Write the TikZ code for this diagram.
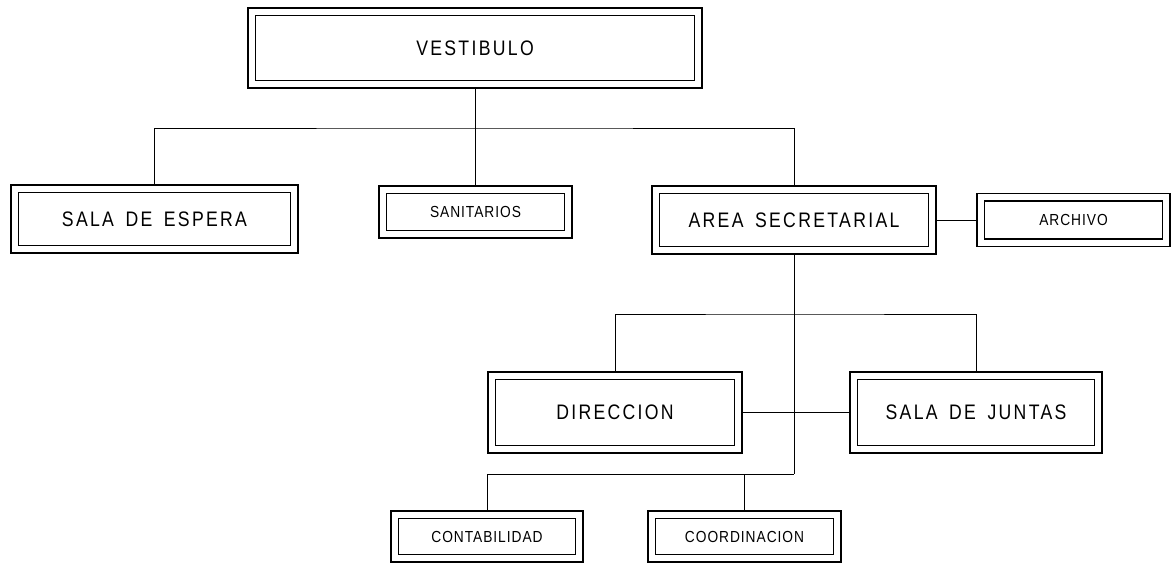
\documentclass[tikz,border=0pt]{standalone}
\usepackage{fontspec}
% narrow, tracked lettering in the style of drafting text
\setmainfont{Liberation Sans}[FakeStretch=0.84, LetterSpace=11, WordSpace=1.6]
\newfontfamily\smallcad{Liberation Sans}[FakeStretch=0.86, LetterSpace=6, WordSpace=1.4]
\begin{document}
\begin{tikzpicture}[x=1pt,y=-1pt,
  roombox/.style={draw, line width=1.1pt, double=white, double distance=6.4pt,
    outer sep=4.3pt, inner sep=0pt, align=center},
  bigroom/.style={roombox, font=\fontsize{21}{24}\selectfont},
  smallroom/.style={roombox, font=\smallcad\fontsize{16}{18}\selectfont},
  link/.style={draw, line width=1pt}]
\useasboundingbox (0,0) rectangle (1171,566);

% rooms
\node[bigroom, minimum width=446.5pt, minimum height=72.5pt] (vest) at (475,48) {VESTIBULO};
\node[bigroom, minimum width=279.5pt, minimum height=60.5pt] (espera) at (154.5,219) {SALA DE ESPERA};
\node[smallroom, minimum width=185.5pt, minimum height=44.5pt] (sanit) at (475.5,212) {SANITARIOS};
\node[bigroom, minimum width=276.5pt, minimum height=60.5pt] (area) at (794,220) {AREA SECRETARIAL};
\node[smallroom, minimum width=185.5pt, minimum height=45.5pt] (archivo) at (1073.5,220) {ARCHIVO};
\node[bigroom, minimum width=246.5pt, minimum height=73.5pt] (dir) at (615,412.5) {DIRECCION};
\node[bigroom, minimum width=244.5pt, minimum height=73.5pt] (juntas) at (976,412.5) {SALA DE JUNTAS};
\node[smallroom, minimum width=184.5pt, minimum height=43.5pt] (conta) at (487,536.5) {CONTABILIDAD};
\node[smallroom, minimum width=185.5pt, minimum height=43.5pt] (coord) at (744.5,536.5) {COORDINACION};

% junction points of the connecting lines
\coordinate (bus1) at (475,128);
\coordinate (bus2) at (794,314);
\coordinate (bus3) at (794,474);

% connections
\draw[link] (vest.south) -- (bus1);
\draw[link] (espera.north) |- (bus1) -| (area.north);
\draw[link] (sanit.north) -- (sanit.north |- bus1);
\draw[link] (area.east) -- (archivo.west);
\draw[link] (area.south) -- (bus3);
\draw[link] (dir.north) |- (bus2) -| (juntas.north);
\draw[link] (dir.east) -- (juntas.west);
\draw[link] (conta.north) |- (bus3);
\draw[link] (coord.north) -- (coord.north |- bus3);
\end{tikzpicture}
\end{document}
